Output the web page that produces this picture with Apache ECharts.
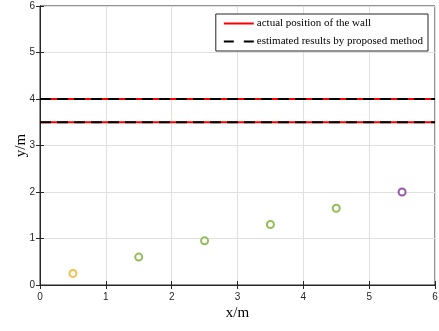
<!DOCTYPE html>
<html><head><meta charset="utf-8">
<script src="https://cdn.jsdelivr.net/npm/echarts@6/dist/echarts.min.js"></script>
<style>html,body{margin:0;padding:0;background:#fff}#c{width:439px;height:331px}</style>
</head><body><div id="c"></div>
<script>
const xTicks = [0,1,2,3,4,5,6];
const yTicks = [0,1,2,3,4,5,6];
const wallY = [4, 3.5];
const wallX = [0, 6];
const estY = [4, 3.5];
const pointsX = [0.5, 1.5, 2.5, 3.5, 4.5, 5.5];
const pointsY = [0.25, 0.6, 0.95, 1.3, 1.65, 2.0];
const pointColors = ['#EDB120', '#77AC30', '#77AC30', '#77AC30', '#77AC30', '#7E2F8E'];
const legendNames = ['actual position of the wall', 'estimated results by proposed method'];

const chart = echarts.init(document.getElementById('c'), null, {renderer: 'canvas'});
const tickFont = {color: '#262626', fontSize: 10, fontFamily: 'Liberation Sans, Arial, sans-serif'};
const gridLine = {show: true, lineStyle: {color: '#e0e0e0', width: 1}};
const series = [];
wallY.forEach((y, i) => {
  series.push({name: legendNames[0], type: 'line', symbol: 'none', z: 3,
    itemStyle: {color: '#ff0000'},
    lineStyle: {color: '#ff0000', width: 2, type: 'solid'},
    data: wallX.map(x => [x, y])});
});
estY.forEach((y, i) => {
  series.push({name: legendNames[1], type: 'line', symbol: 'none', z: 4,
    itemStyle: {color: '#000000'},
    lineStyle: {color: '#000000', width: 2, type: [11, 6]},
    data: wallX.map(x => [x, y])});
});
series.push({name: 'points', type: 'scatter', symbol: 'circle', symbolSize: 7, z: 5,
  data: pointsX.map((x, i) => ({value: [x, pointsY[i]], itemStyle: {color: '#fff', borderColor: pointColors[i], borderWidth: 2}}))});

chart.setOption({
  animation: false,
  backgroundColor: '#fff',
  grid: {left: 40, right: 4, top: 6, bottom: 46, outerBoundsMode: 'none', containLabel: false,
    show: true, borderColor: '#262626', borderWidth: 1, backgroundColor: '#fff'},
  legend: {
    data: [{name: legendNames[0]}, {name: legendNames[1], lineStyle: {type: [10, 10], width: 2, color: '#000'}}],
    orient: 'vertical', right: 11, top: 14,
    itemWidth: 30, itemHeight: 8, itemGap: 7,
    padding: [4, 5, 4, 7],
    itemStyle: {opacity: 0},
    backgroundColor: '#fff', borderColor: '#262626', borderWidth: 1, borderRadius: 0,
    textStyle: {fontFamily: 'Liberation Serif, Times New Roman, serif', fontSize: 11, color: '#000', padding: [0, 0, 0, -2]},
    selectedMode: false
  },
  xAxis: [{
    type: 'value', min: xTicks[0], max: xTicks[xTicks.length-1], interval: 1,
    name: 'x/m', nameLocation: 'middle', nameGap: 21, nameMoveOverlap: false,
    nameTextStyle: {fontFamily: 'Liberation Serif, Times New Roman, serif', fontSize: 15, color: '#000'},
    axisLine: {show: true, lineStyle: {color: '#262626'}},
    axisTick: {show: true, inside: true, length: 4, lineStyle: {color: '#262626'}},
    axisLabel: Object.assign({margin: 7}, tickFont),
    splitLine: gridLine
  }, {
    type: 'value', position: 'top', min: 0, max: 6, interval: 1,
    axisLine: {show: true, lineStyle: {color: '#262626'}},
    axisTick: {show: true, inside: true, length: 4, lineStyle: {color: '#262626'}},
    axisLabel: {show: false}, splitLine: {show: false}
  }],
  yAxis: [{
    type: 'value', min: yTicks[0], max: yTicks[yTicks.length-1], interval: 1,
    name: 'y/m', nameLocation: 'middle', nameGap: 11, nameMoveOverlap: false,
    nameTextStyle: {fontFamily: 'Liberation Serif, Times New Roman, serif', fontSize: 15, color: '#000'},
    axisLine: {show: true, lineStyle: {color: '#262626'}},
    axisTick: {show: true, inside: true, length: 4, lineStyle: {color: '#262626'}},
    axisLabel: Object.assign({margin: 5}, tickFont),
    splitLine: gridLine
  }, {
    type: 'value', position: 'right', min: 0, max: 6, interval: 1,
    axisLine: {show: true, lineStyle: {color: '#262626'}},
    axisTick: {show: true, inside: true, length: 4, lineStyle: {color: '#262626'}},
    axisLabel: {show: false}, splitLine: {show: false}
  }],
  series: series
});
</script></body></html>
